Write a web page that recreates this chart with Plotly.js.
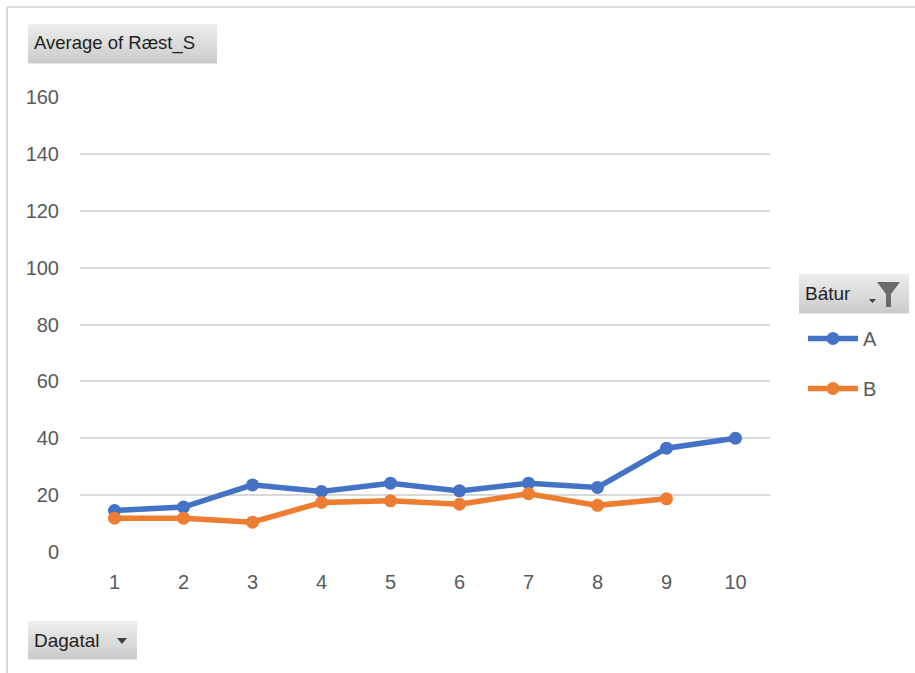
<!DOCTYPE html>
<html>
<head>
<meta charset="utf-8">
<script src="https://cdn.plot.ly/plotly-3.0.1.min.js"></script>
<style>
  html, body { margin: 0; padding: 0; background: #ffffff; }
  #chart { width: 915px; height: 673px; }
</style>
</head>
<body>
<div id="chart"></div>
<script>
// Average of Ræst_S per day (Dagatal), one line per boat (Bátur)
const dagatal = [1, 2, 3, 4, 5, 6, 7, 8, 9, 10];
const baturA = [14.6, 15.8, 23.6, 21.3, 24.2, 21.5, 24.2, 22.7, 36.5, 40.0];
const baturB = [11.9, 11.9, 10.5, 17.4, 18.0, 16.8, 20.5, 16.4, 18.7];
const yTicks = [0, 20, 40, 60, 80, 100, 120, 140, 160];
const seriesNames = ['A', 'B'];

const FONT = '"Liberation Sans", Arial, sans-serif';
const GREY = '#595959';

// plot area in pixels
const L = 80, T = 97, W = 690, H = 455;
const px = x => (x - L) / W;          // pixel x -> paper x
const py = y => (T + H - y) / H;      // pixel y -> paper y

const shapes = [];
const annotations = [];

// outer chart frame (top and left edges)
shapes.push({type: 'line', xref: 'paper', yref: 'paper', x0: px(7), x1: px(915), y0: py(7), y1: py(7),
             line: {color: '#d9d9d9', width: 2}});
shapes.push({type: 'line', xref: 'paper', yref: 'paper', x0: px(7), x1: px(7), y0: py(7), y1: py(673),
             line: {color: '#d9d9d9', width: 2}});

// grey field buttons with a soft vertical gradient
function fieldButton(x0, y0, x1, y1, label, size) {
  const strips = 12;
  const top = [236, 236, 236], bot = [204, 204, 204];
  for (let i = 0; i < strips; i++) {
    const t = i / (strips - 1);
    const c = top.map((v, k) => Math.round(v + (bot[k] - v) * t));
    const ya = y0 + (y1 - y0) * i / strips;
    const yb = y0 + (y1 - y0) * (i + 1) / strips;
    shapes.push({type: 'rect', xref: 'paper', yref: 'paper', layer: 'below',
                 x0: px(x0), x1: px(x1), y0: py(ya), y1: py(yb + 0.5),
                 fillcolor: `rgb(${c[0]},${c[1]},${c[2]})`, line: {width: 0}});
  }
  annotations.push({xref: 'paper', yref: 'paper', x: px(x0 + 4), y: py((y0 + y1) / 2),
                    xanchor: 'left', yanchor: 'middle', showarrow: false, text: label,
                    font: {family: FONT, size: size, color: '#1f1f1f'}});
}
fieldButton(28, 24, 217, 63, 'Average of Ræst_S', 18.5);
fieldButton(799, 274, 909, 313, 'Bátur', 19);
fieldButton(28, 621, 137, 659, 'Dagatal', 19);

// dropdown arrow on the Dagatal button
shapes.push({type: 'path', xref: 'paper', yref: 'paper', fillcolor: '#404040', line: {width: 0},
             path: `M ${px(117)} ${py(638)} L ${px(127)} ${py(638)} L ${px(122)} ${py(644)} Z`});
// small arrow and filter funnel on the Bátur button
shapes.push({type: 'path', xref: 'paper', yref: 'paper', fillcolor: '#404040', line: {width: 0},
             path: `M ${px(869)} ${py(299)} L ${px(876)} ${py(299)} L ${px(872.5)} ${py(303)} Z`});
shapes.push({type: 'path', xref: 'paper', yref: 'paper', fillcolor: '#6b6b6b', line: {width: 0},
             path: `M ${px(877)} ${py(282)} L ${px(900)} ${py(282)} L ${px(891)} ${py(294)} ` +
                   `L ${px(891)} ${py(307)} L ${px(886)} ${py(307)} L ${px(886)} ${py(294)} Z`});

const traces = [
  {x: dagatal, y: baturA, name: seriesNames[0], type: 'scatter', mode: 'lines+markers',
   legendgroup: 'a', line: {color: '#4472C4', width: 5.5}, marker: {color: '#4472C4', size: 13}},
  {x: dagatal.slice(0, baturB.length), y: baturB, name: seriesNames[1], type: 'scatter', mode: 'lines+markers',
   legendgroup: 'b', line: {color: '#ED7D31', width: 5.5}, marker: {color: '#ED7D31', size: 13}}
];

const layout = {
  width: 915, height: 673,
  margin: {l: L, r: 915 - L - W, t: T, b: 673 - T - H, pad: 0},
  paper_bgcolor: '#ffffff', plot_bgcolor: '#ffffff',
  font: {family: FONT, color: GREY},
  showlegend: true,
  legend: {x: px(803), y: py(319), xanchor: 'left', yanchor: 'top',
           traceorder: 'grouped', tracegroupgap: 21, itemwidth: 50,
           font: {family: FONT, size: 20, color: GREY}, bgcolor: 'rgba(0,0,0,0)'},
  xaxis: {type: 'linear', range: [0.5, 10.5], tickvals: dagatal, ticktext: dagatal.map(String),
          showgrid: false, zeroline: false, showline: false, ticks: '',
          ticklabelstandoff: 16, tickfont: {family: FONT, size: 20, color: GREY}, fixedrange: true},
  yaxis: {range: [0, 160], tickvals: yTicks, showgrid: true, gridcolor: '#d9d9d9', gridwidth: 2,
          zeroline: false, showline: false, ticks: '', ticklabelstandoff: 20,
          tickfont: {family: FONT, size: 20, color: GREY}, fixedrange: true},
  shapes: shapes,
  annotations: annotations
};

Plotly.newPlot('chart', traces, layout, {displayModeBar: false, staticPlot: true});
</script>
</body>
</html>
